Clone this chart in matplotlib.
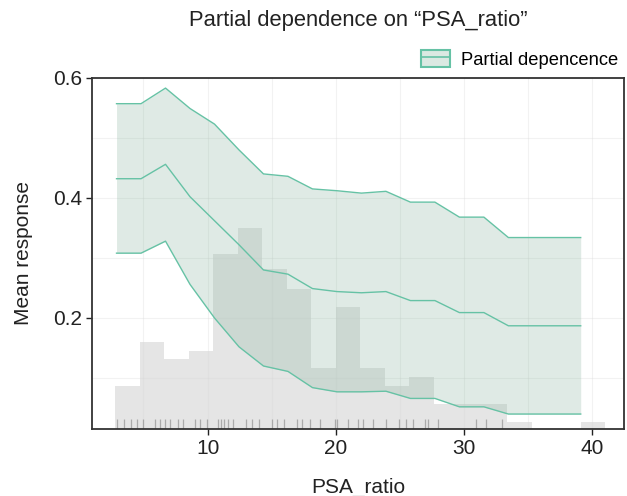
import matplotlib
matplotlib.use("Agg")
import matplotlib.pyplot as plt
from matplotlib.patches import Patch
from matplotlib.lines import Line2D
import numpy as np

plt.rcParams['font.family'] = ['Liberation Sans', 'DejaVu Sans']

# ---- data ----
grid_x = [2.9, 4.81, 6.72, 8.63, 10.54, 12.45, 14.36, 16.27, 18.18, 20.09,
          22.0, 23.91, 25.82, 27.73, 29.64, 31.55, 33.46, 35.37, 37.28, 39.1]
upper = [0.557, 0.557, 0.583, 0.549, 0.523, 0.480, 0.440, 0.436, 0.415, 0.412,
         0.408, 0.411, 0.393, 0.393, 0.368, 0.368, 0.334, 0.334, 0.334, 0.334]
mean = [0.432, 0.432, 0.456, 0.402, 0.362, 0.322, 0.280, 0.273, 0.249, 0.244,
        0.242, 0.244, 0.229, 0.229, 0.209, 0.209, 0.187, 0.187, 0.187, 0.187]
lower = [0.308, 0.308, 0.328, 0.256, 0.200, 0.152, 0.120, 0.111, 0.084, 0.077,
         0.077, 0.078, 0.066, 0.066, 0.052, 0.052, 0.040, 0.040, 0.040, 0.040]

hist_edges = [2.8, 4.71, 6.62, 8.53, 10.44, 12.35, 14.26, 16.17, 18.08, 19.99,
              21.9, 23.81, 25.72, 27.63, 29.54, 31.45, 33.36, 35.27, 37.18, 39.09, 41.0]
hist_top = [0.087, 0.160, 0.132, 0.145, 0.307, 0.350, 0.282, 0.248, 0.117, 0.218,
            0.117, 0.087, 0.102, 0.057, 0.057, 0.057, 0.027, 0.0, 0.0, 0.027]

rug_x = [2.95, 3.48, 4.0, 4.5, 4.98, 5.89, 6.28, 6.67, 7.06, 7.71, 8.05, 9.01,
         9.4, 9.97, 10.83, 11.01, 11.27, 11.6, 11.95, 12.96, 13.5, 14.0, 14.99,
         15.38, 15.97, 16.94, 17.4, 17.97, 18.75, 19.92, 20.1, 20.96, 21.74,
         22.13, 22.9, 23.95, 24.93, 25.45, 26.02, 26.94, 27.19, 27.97, 30.97,
         31.75, 33.0]

x_ticks = [10, 20, 30, 40]
y_ticks = [0.2, 0.4, 0.6]

line_color = '#66c2a5'
fill_color = '#89b59f'

fig = plt.figure(figsize=(6.27, 4.96), dpi=100)
ax = fig.add_axes([0.147, 0.135, 0.8487, 0.708])

ymin, ymax = 0.015, 0.6
ax.set_xlim(1.0, 42.5)
ax.set_ylim(ymin, ymax)

# histogram (scaled to response axis)
edges = np.array(hist_edges)
heights = np.array(hist_top) - ymin
ax.bar(edges[:-1], np.clip(heights, 0, None), width=np.diff(edges), bottom=ymin,
       align='edge', color='#e5e5e5', linewidth=0, zorder=1)

# grid
for gx in np.arange(5, 45, 5):
    ax.axvline(gx, color='#d6d6d6', lw=0.8, alpha=0.3, zorder=1.5)
for gy in np.arange(0.1, 0.61, 0.1):
    ax.axhline(gy, color='#d6d6d6', lw=0.8, alpha=0.3, zorder=1.5)

# rug
ax.vlines(rug_x, ymin, ymin + 0.017, color='#555555', lw=0.9, alpha=0.4, zorder=2)

# band
ax.fill_between(grid_x, lower, upper, color=fill_color, alpha=0.27, linewidth=0, zorder=3)
for ys in (upper, mean, lower):
    ax.plot(grid_x, ys, color=line_color, lw=1.0, zorder=4)

ax.set_xticks(x_ticks)
ax.set_yticks(y_ticks)
ax.set_yticklabels([f'{v:.1f}' for v in y_ticks])
ax.tick_params(axis='both', direction='out', length=4.3, width=1.0,
               labelsize=15, color='#222222', labelcolor='#222222', pad=3)
for s in ax.spines.values():
    s.set_color('#333333')
    s.set_linewidth(1.3)

ax.set_xlabel('PSA_ratio', fontsize=15, color='#222222', labelpad=14)
ax.set_ylabel('Mean response', fontsize=15, color='#222222', labelpad=14)
ax.set_title('Partial dependence on \u201cPSA_ratio\u201d', fontsize=15.8,
             color='#222222', pad=37)

ax.legend([(Patch(facecolor='#dbe9e2', edgecolor=line_color, linewidth=1.5),
            Line2D([], [], color=line_color, lw=1.2))],
          ['Partial depencence'], loc='lower right', bbox_to_anchor=(1.005, 1.0),
          frameon=False, fontsize=13.2, handlelength=1.55, handleheight=1.1,
          handletextpad=0.6, borderpad=0.3, borderaxespad=0.2)

fig.savefig('out.png', dpi=100)
